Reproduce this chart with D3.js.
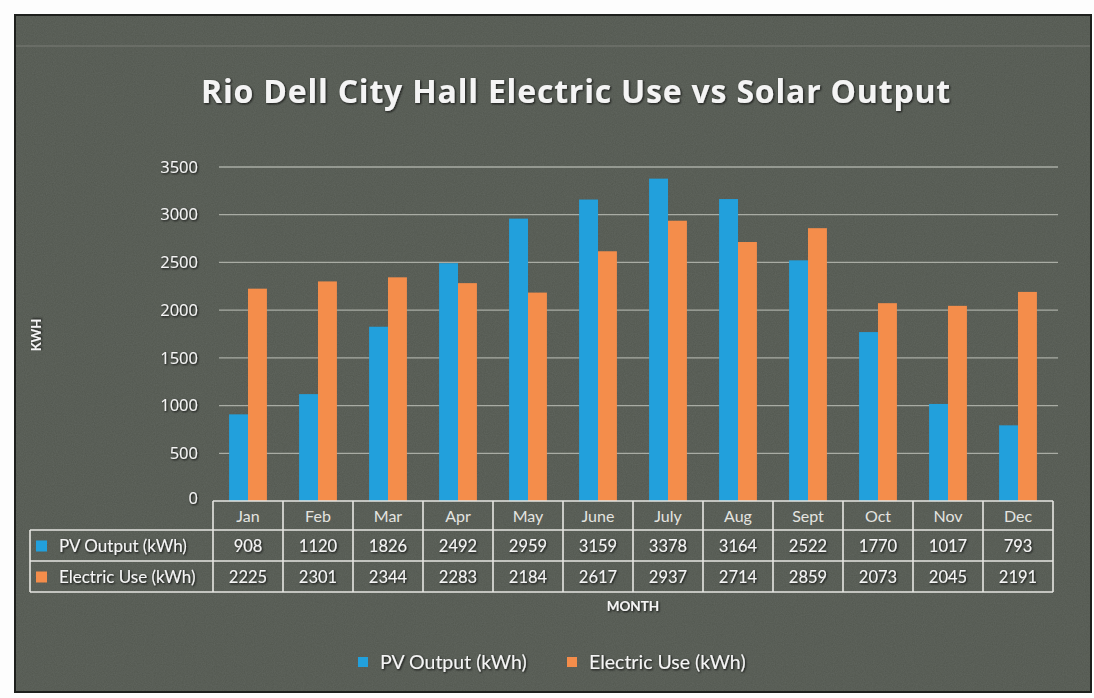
<!DOCTYPE html>
<html>
<head>
<meta charset="utf-8">
<script src="https://cdn.jsdelivr.net/npm/d3@7"></script>
<style>
	body { margin: 0; background: #fdfdfd; }
	#chart { width: 1094px; height: 698px; }
	text { font-family: Lato, "Open Sans", sans-serif; fill: #f4f4f4; }
</style>
</head>
<body>
<div id="chart"></div>
<script>
/* electric use vs solar output */

var months = ["Jan", "Feb", "Mar", "Apr", "May", "June", "July", "Aug", "Sept", "Oct", "Nov", "Dec"];
var pvOutput = [908, 1120, 1826, 2492, 2959, 3159, 3378, 3164, 2522, 1770, 1017, 793];
var electricUse = [2225, 2301, 2344, 2283, 2184, 2617, 2937, 2714, 2859, 2073, 2045, 2191];
var seriesNames = ["PV Output (kWh)", "Electric Use (kWh)"];
var yTicks = [0, 500, 1000, 1500, 2000, 2500, 3000, 3500];

var SolarChart = function(config){
	this.targetID = config.targetID;
	this.colors = ["#22a0dc", "#f48d4b"];

	// Creation sequence
	this.createSVG();
	this.setupHelpers();
	this.addGrid();
	this.addBars();
	this.addTable();
	this.addText();
}

SolarChart.prototype.createSVG = function(){
	/*
	Makes the svg, the dark panel and the shadow filter
	*/
	this.width = 1094;
	this.height = 698;
	this.plot = {left: 213, right: 1053, top: 167, bottom: 501};

	this.svg = d3.select("#" + this.targetID).append('svg')
			.attr('width', this.width)
			.attr('height', this.height);

	let defs = this.svg.append('defs');

	// grainy scan look
	let noise = defs.append('filter').attr('id', 'grain')
			.attr('x', 0).attr('y', 0).attr('width', '100%').attr('height', '100%');
	noise.append('feTurbulence')
		.attr('type', 'fractalNoise')
		.attr('baseFrequency', 0.9)
		.attr('numOctaves', 2)
		.attr('result', 'n');
	noise.append('feColorMatrix')
		.attr('type', 'matrix')
		.attr('values', '0 0 0 0 0.2  0 0 0 0 0.22  0 0 0 0 0.2  0 0 0 0.35 0');

	// dark halo under the white text
	let shadow = defs.append('filter').attr('id', 'halo')
			.attr('x', '-10%').attr('y', '-30%').attr('width', '120%').attr('height', '160%');
	shadow.append('feDropShadow')
		.attr('dx', 1).attr('dy', 1)
		.attr('stdDeviation', 1.2)
		.attr('flood-color', '#111')
		.attr('flood-opacity', 0.9);

	// the panel
	this.svg.append('rect')
		.attr('x', 15).attr('y', 15)
		.attr('width', 1076).attr('height', 677)
		.style('fill', '#52574f')
		.style('stroke', '#1e201d')
		.style('stroke-width', 2);

	this.svg.append('rect')
		.attr('x', 16).attr('y', 16)
		.attr('width', 1074).attr('height', 675)
		.attr('filter', 'url(#grain)');

	// faint scan line near the top
	this.svg.append('line')
		.attr('x1', 16).attr('x2', 1090)
		.attr('y1', 46).attr('y2', 46)
		.style('stroke', '#7a7d76')
		.style('stroke-width', 1);
}

SolarChart.prototype.setupHelpers = function(){
	/*
	Scales for the columns, the pair of bars and the values
	*/
	this.x = d3.scaleBand()
		.domain(months)
		.range([this.plot.left, this.plot.right]);

	this.x1 = d3.scaleBand()
		.domain([0, 1])
		.range([0, this.x.bandwidth()])
		.paddingOuter(0.85)
		.paddingInner(0);

	this.y = d3.scaleLinear()
		.domain([0, 3500])
		.range([this.plot.bottom, this.plot.top]);
}

SolarChart.prototype.addGrid = function(){
	/*
	Gridlines and the value labels on the left
	*/
	let g = this.svg.append('g');

	g.selectAll('.grid')
		.data(yTicks.filter(d => d > 0))
		.enter()
		.append('line')
		.attr('x1', this.plot.left + 6)
		.attr('x2', this.plot.right + 5)
		.attr('y1', d => this.y(d))
		.attr('y2', d => this.y(d))
		.style('stroke', '#a9aca4')
		.style('stroke-width', 1.3);

	g.selectAll('.ylab')
		.data(yTicks)
		.enter()
		.append('text')
		.attr('x', 198)
		.attr('y', d => this.y(d) - (d == 0 ? 3 : 0))
		.attr('dy', '0.35em')
		.style('text-anchor', 'end')
		.style('font-size', '16.5px')
		.style('font-family', '"Open Sans", sans-serif')
		.attr('filter', 'url(#halo)')
		.text(d => d);
}

SolarChart.prototype.addBars = function(){
	/*
	Two bars per month, blue for PV and orange for use
	*/
	let series = [pvOutput, electricUse];

	let groups = this.svg.selectAll('.month')
		.data(months)
		.enter()
		.append('g')
		.attr('transform', d => `translate(${this.x(d)},0)`);

	groups.selectAll('rect')
		.data((m, i) => series.map((s, k) => ({k: k, v: s[i]})))
		.enter()
		.append('rect')
		.attr('x', d => this.x1(d.k))
		.attr('width', this.x1.bandwidth())
		.attr('y', d => this.y(d.v))
		.attr('height', d => this.y(0) - this.y(d.v))
		.style('fill', d => this.colors[d.k]);
}

SolarChart.prototype.addTable = function(){
	/*
	Data table under the plot, with the series keys
	*/
	let rowTop = [501, 530, 561, 592];
	let left = 30;
	let g = this.svg.append('g');
	let lineStyle = sel => sel.style('stroke', '#e6e6e2').style('stroke-width', 1.6);

	// horizontal lines
	g.append('line').call(lineStyle)
		.attr('x1', this.plot.left).attr('x2', this.plot.right)
		.attr('y1', rowTop[0]).attr('y2', rowTop[0]);
	g.selectAll('.hl')
		.data(rowTop.slice(1))
		.enter()
		.append('line').call(lineStyle)
		.attr('x1', left).attr('x2', this.plot.right)
		.attr('y1', d => d).attr('y2', d => d);

	// vertical lines
	let cuts = months.map(m => this.x(m)).concat([this.plot.right]);
	g.selectAll('.vl')
		.data(cuts)
		.enter()
		.append('line').call(lineStyle)
		.attr('x1', d => d).attr('x2', d => d)
		.attr('y1', rowTop[0]).attr('y2', rowTop[3]);
	g.append('line').call(lineStyle)
		.attr('x1', left).attr('x2', left)
		.attr('y1', rowTop[1]).attr('y2', rowTop[3]);

	// month names
	g.selectAll('.mname')
		.data(months)
		.enter()
		.append('text')
		.attr('x', d => this.x(d) + this.x.bandwidth()/2)
		.attr('y', (rowTop[0] + rowTop[1])/2 + 1)
		.attr('dy', '0.35em')
		.style('text-anchor', 'middle')
		.style('font-size', '16px')
		.style('fill', '#e4e4e0')
		.text(d => d);

	// values
	[pvOutput, electricUse].forEach((s, k) => {
		let cy = (rowTop[k+1] + rowTop[k+2])/2 + 1;

		g.selectAll('.val' + k)
			.data(s)
			.enter()
			.append('text')
			.attr('x', (d, i) => this.x(months[i]) + this.x.bandwidth()/2)
			.attr('y', cy)
			.attr('dy', '0.35em')
			.style('text-anchor', 'middle')
			.style('font-size', '16.5px')
			.attr('filter', 'url(#halo)')
			.text(d => d);

		g.append('rect')
			.attr('x', 36).attr('y', cy - 6)
			.attr('width', 11).attr('height', 11)
			.style('fill', this.colors[k]);

		g.append('text')
			.attr('x', 59)
			.attr('y', cy)
			.attr('dy', '0.35em')
			.style('font-size', '17px')
			.attr('filter', 'url(#halo)')
			.text(seriesNames[k]);
	});
}

SolarChart.prototype.addText = function(){
	/*
	Title, axis names and the bottom legend
	*/
	this.svg.append('text')
		.attr('x', 576)
		.attr('y', 92)
		.attr('dy', '0.35em')
		.style('text-anchor', 'middle')
		.style('font-family', '"Open Sans", sans-serif')
		.style('font-size', '32px')
		.style('font-weight', 'bold')
		.style('letter-spacing', '0.8px')
		.attr('filter', 'url(#halo)')
		.text('Rio Dell City Hall Electric Use vs Solar Output');

	this.svg.append('text')
		.attr('transform', 'translate(36,335) rotate(-90)')
		.attr('dy', '0.35em')
		.style('text-anchor', 'middle')
		.style('font-size', '13px')
		.style('font-weight', 'bold')
		.attr('filter', 'url(#halo)')
		.text('KWH');

	this.svg.append('text')
		.attr('x', 633)
		.attr('y', 606)
		.attr('dy', '0.35em')
		.style('text-anchor', 'middle')
		.style('font-size', '13.5px')
		.style('font-weight', 'bold')
		.attr('filter', 'url(#halo)')
		.text('MONTH');

	// legend
	let legX = [358, 567];
	let legend = this.svg.selectAll('.leg')
		.data(seriesNames)
		.enter()
		.append('g')
		.attr('transform', (d, i) => `translate(${legX[i]},662)`);

	legend.append('rect')
		.attr('x', 0).attr('y', -5)
		.attr('width', 10).attr('height', 10)
		.style('fill', (d, i) => this.colors[i]);

	legend.append('text')
		.attr('x', 22)
		.attr('dy', '0.35em')
		.style('font-size', '19.5px')
		.attr('filter', 'url(#halo)')
		.text(d => d);
}

var chart = new SolarChart({targetID: 'chart'});
</script>
</body>
</html>
